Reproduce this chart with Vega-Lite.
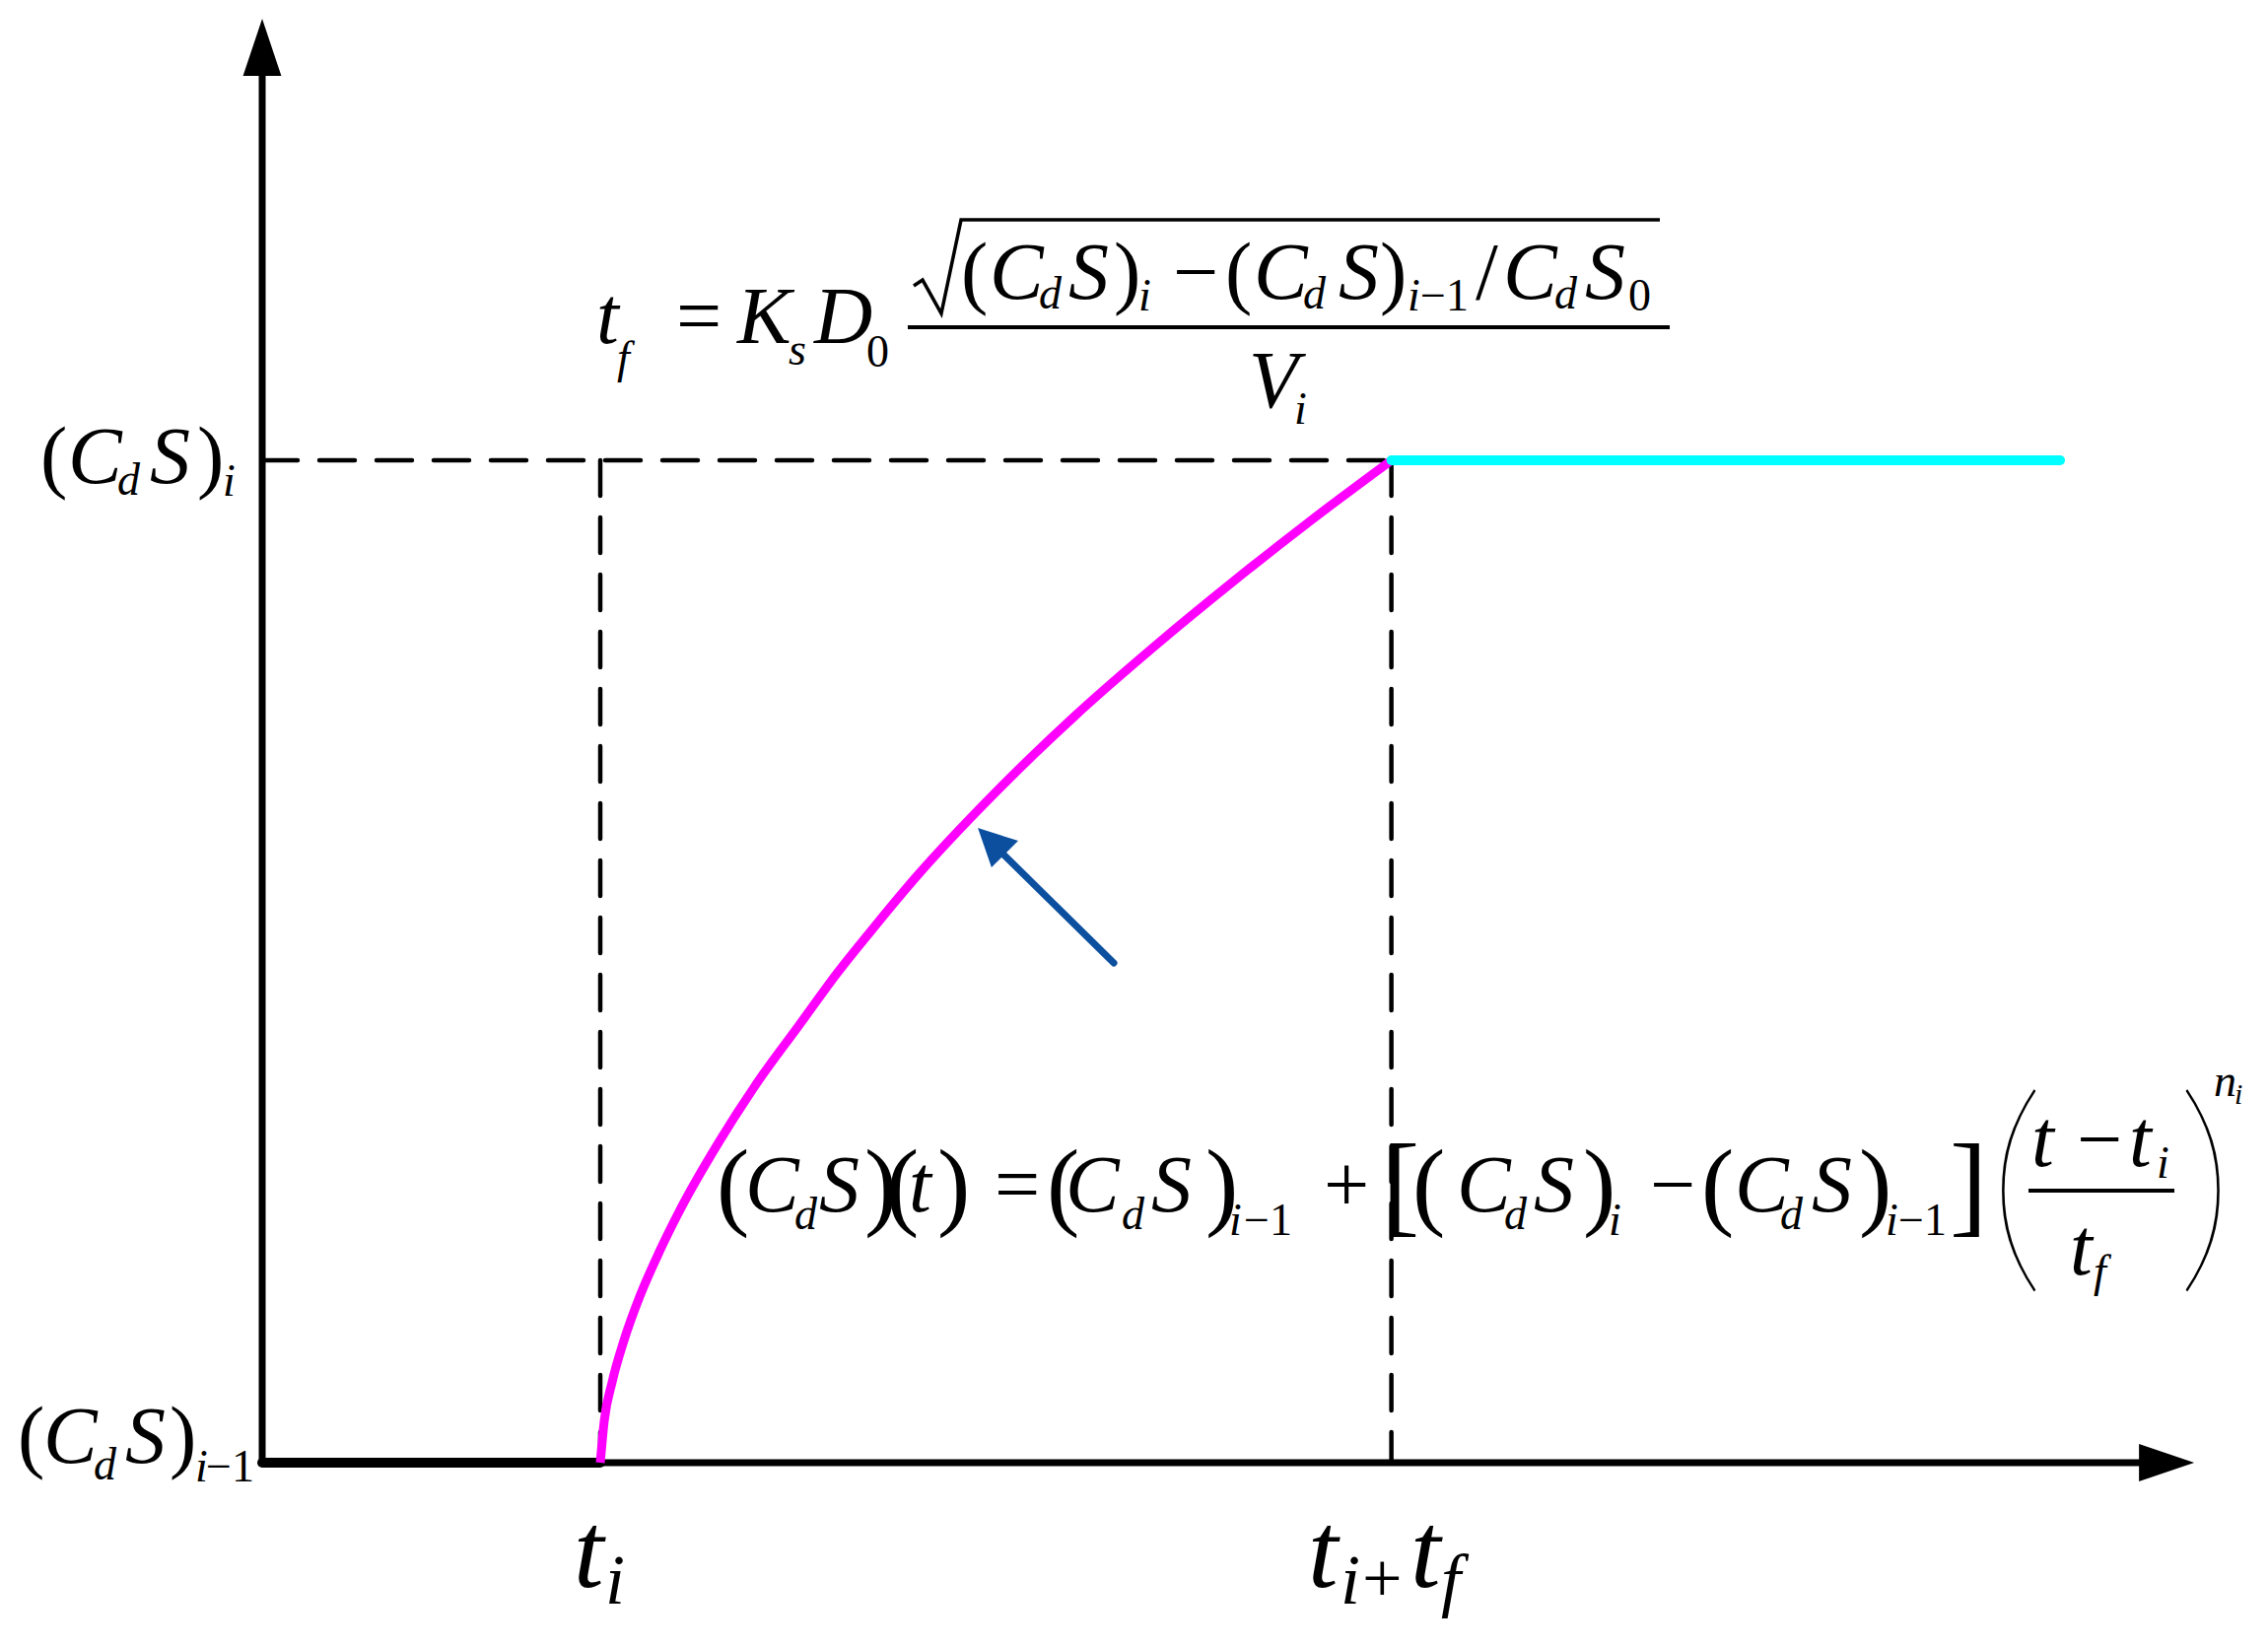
{
  "$schema": "https://vega.github.io/schema/vega-lite/v6.json",
  "width": 2301,
  "height": 1671,
  "autosize": {"type": "fit", "contains": "padding"},
  "padding": 0,
  "background": "white",
  "config": {"view": {"stroke": null}},
  "datasets": {
    "dash": [
      {"t": 0, "v": 10, "t2": 33.4, "v2": 10},
      {"t": 10, "v": 10, "t2": 10, "v2": 0},
      {"t": 33.4, "v": 10, "t2": 33.4, "v2": 0}
    ],
    "axes": [
      {"t": 0, "v": 0, "t2": 0, "v2": 13.9},
      {"t": 0, "v": 0, "t2": 55.6, "v2": 0}
    ],
    "thick": [{"t": 0, "v": 0, "t2": 10, "v2": 0}],
    "flat": [{"t": 33.4, "v": 10, "t2": 53.18, "v2": 10}],
    "pointer": [{"t": 25.19, "v": 4.985, "t2": 21.9, "v2": 6.077}],
    "headY": [{"t": 0, "v": 14.12}],
    "headX": [{"t": 56.33, "v": 0}],
    "headP": [{"t": 21.75, "v": 6.136}],
    "bars": [
      {"t": 19.096, "v": 11.327, "t2": 41.633, "v2": 11.327},
      {"t": 52.245, "v": 2.714, "t2": 56.56, "v2": 2.714}
    ],
    "radical": [
      {"t": 19.271, "v": 11.74},
      {"t": 19.534, "v": 11.799},
      {"t": 20.087, "v": 11.465},
      {"t": 20.671, "v": 12.399},
      {"t": 41.341, "v": 12.399}
    ],
    "curve": [
      {"t": 10.0, "v": 0},
      {"t": 10.117, "v": 0.416},
      {"t": 10.351, "v": 0.804},
      {"t": 10.702, "v": 1.22},
      {"t": 11.17, "v": 1.66},
      {"t": 11.755, "v": 2.11},
      {"t": 12.34, "v": 2.51},
      {"t": 13.51, "v": 3.2},
      {"t": 14.68, "v": 3.81},
      {"t": 15.85, "v": 4.35},
      {"t": 17.02, "v": 4.89},
      {"t": 18.19, "v": 5.38},
      {"t": 19.36, "v": 5.85},
      {"t": 21.7, "v": 6.69},
      {"t": 24.04, "v": 7.45},
      {"t": 26.38, "v": 8.14},
      {"t": 28.72, "v": 8.79},
      {"t": 31.06, "v": 9.41},
      {"t": 33.4, "v": 10.0}
    ],
    "mi": [
      {"t": -5.743, "v": 9.774, "s": "C"},
      {"t": -3.324, "v": 9.774, "s": "S"},
      {"t": -6.472, "v": 0, "s": "C"},
      {"t": -4.052, "v": 0, "s": "S"},
      {"t": 9.883, "v": 11.17, "s": "t"},
      {"t": 14.052, "v": 11.17, "s": "K"},
      {"t": 16.327, "v": 11.17, "s": "D"},
      {"t": 21.516, "v": 11.613, "s": "C"},
      {"t": 23.848, "v": 11.613, "s": "S"},
      {"t": 29.329, "v": 11.613, "s": "C"},
      {"t": 31.837, "v": 11.613, "s": "S"},
      {"t": 36.706, "v": 11.613, "s": "C"},
      {"t": 39.125, "v": 11.613, "s": "S"},
      {"t": 29.184, "v": 10.531, "s": "V"},
      {"t": 14.286, "v": 2.507, "s": "C"},
      {"t": 16.472, "v": 2.507, "s": "S"},
      {"t": 19.125, "v": 2.507, "s": "t"},
      {"t": 23.761, "v": 2.507, "s": "C"},
      {"t": 26.297, "v": 2.507, "s": "S"},
      {"t": 35.335, "v": 2.507, "s": "C"},
      {"t": 37.609, "v": 2.507, "s": "S"},
      {"t": 43.557, "v": 2.507, "s": "C"},
      {"t": 45.831, "v": 2.507, "s": "S"},
      {"t": 52.332, "v": 2.96, "s": "t"},
      {"t": 55.219, "v": 2.96, "s": "t"},
      {"t": 53.469, "v": 1.878, "s": "t"}
    ],
    "mr": [
      {"t": -6.56, "v": 9.774, "s": "("},
      {"t": -1.924, "v": 9.774, "s": ")"},
      {"t": -7.23, "v": 0, "s": "("},
      {"t": -2.741, "v": 0, "s": ")"},
      {"t": 12.245, "v": 11.17, "s": "="},
      {"t": 20.671, "v": 11.613, "s": "("},
      {"t": 25.19, "v": 11.613, "s": ")"},
      {"t": 26.939, "v": 11.613, "s": "−"},
      {"t": 28.484, "v": 11.613, "s": "("},
      {"t": 33.061, "v": 11.613, "s": ")"},
      {"t": 35.889, "v": 11.613, "s": "/"},
      {"t": 21.662, "v": 2.507, "s": "="},
      {"t": 31.399, "v": 2.507, "s": "+"},
      {"t": 41.05, "v": 2.507, "s": "−"},
      {"t": 53.673, "v": 2.96, "s": "−"}
    ],
    "si": [
      {"t": -4.286, "v": 9.656, "s": "d"},
      {"t": -1.166, "v": 9.646, "s": "i"},
      {"t": -4.985, "v": -0.167, "s": "d"},
      {"t": -1.983, "v": -0.187, "s": "i"},
      {"t": 10.496, "v": 10.875, "s": "f"},
      {"t": 15.569, "v": 10.954, "s": "s"},
      {"t": 22.974, "v": 11.514, "s": "d"},
      {"t": 25.918, "v": 11.495, "s": "i"},
      {"t": 30.787, "v": 11.514, "s": "d"},
      {"t": 33.878, "v": 11.495, "s": "i"},
      {"t": 38.222, "v": 11.514, "s": "d"},
      {"t": 30.525, "v": 10.364, "s": "i"},
      {"t": 15.743, "v": 2.33, "s": "d"},
      {"t": 25.423, "v": 2.33, "s": "d"},
      {"t": 28.601, "v": 2.271, "s": "i"},
      {"t": 36.735, "v": 2.33, "s": "d"},
      {"t": 39.825, "v": 2.271, "s": "i"},
      {"t": 44.898, "v": 2.33, "s": "d"},
      {"t": 48.017, "v": 2.271, "s": "i"},
      {"t": 56.035, "v": 2.842, "s": "i"},
      {"t": 54.169, "v": 1.76, "s": "f"},
      {"t": 57.726, "v": 3.658, "s": "n"}
    ],
    "sr": [
      {"t": -1.662, "v": -0.187, "s": "−1"},
      {"t": 17.872, "v": 10.934, "s": "0"},
      {"t": 34.257, "v": 11.495, "s": "−1"},
      {"t": 40.408, "v": 11.495, "s": "0"},
      {"t": 29.038, "v": 2.271, "s": "−1"},
      {"t": 48.397, "v": 2.271, "s": "−1"}
    ],
    "xi": [
      {"t": 9.213, "v": -1.239, "s": "t"},
      {"t": 30.933, "v": -1.239, "s": "t"},
      {"t": 33.965, "v": -1.239, "s": "t"}
    ],
    "xs": [
      {"t": 10.146, "v": -1.406, "s": "i"},
      {"t": 31.895, "v": -1.406, "s": "i"},
      {"t": 34.869, "v": -1.406, "s": "f"}
    ],
    "xsr": [{"t": 32.536, "v": -1.386, "s": "+"}],
    "pm": [
      {"t": 13.44, "v": 2.448, "s": "("},
      {"t": 17.813, "v": 2.448, "s": ")"},
      {"t": 18.455, "v": 2.448, "s": "("},
      {"t": 19.971, "v": 2.448, "s": ")"},
      {"t": 23.207, "v": 2.448, "s": "("},
      {"t": 27.901, "v": 2.448, "s": ")"},
      {"t": 34.023, "v": 2.448, "s": "("},
      {"t": 39.067, "v": 2.448, "s": ")"},
      {"t": 42.566, "v": 2.448, "s": "("},
      {"t": 47.23, "v": 2.448, "s": ")"}
    ],
    "bk": [
      {"t": 33.12, "v": 2.399, "s": "["},
      {"t": 49.913, "v": 2.399, "s": "]"}
    ],
    "bp": [
      {"t": 51.02, "v": 1.986, "s": "("},
      {"t": 56.618, "v": 1.986, "s": ")"}
    ],
    "tiny": [{"t": 58.338, "v": 3.579, "s": "i"}]
  },
  "encoding": {
    "x": {"field": "t", "type": "quantitative", "scale": {"domain": [-7.755, 59.329], "nice": false, "zero": false}, "axis": null},
    "y": {"field": "v", "type": "quantitative", "scale": {"domain": [-1.8387, 14.592], "nice": false, "zero": false}, "axis": null}
  },
  "layer": [
    {
      "data": {"name": "dash"},
      "mark": {"type": "rule", "color": "black", "strokeWidth": 4.5, "strokeDash": [36, 22], "strokeCap": "round"},
      "encoding": {"x2": {"field": "t2"}, "y2": {"field": "v2"}}
    },
    {
      "data": {"name": "axes"},
      "mark": {"type": "rule", "color": "black", "strokeWidth": 7},
      "encoding": {"x2": {"field": "t2"}, "y2": {"field": "v2"}}
    },
    {
      "data": {"name": "thick"},
      "mark": {"type": "rule", "color": "black", "strokeWidth": 10, "strokeCap": "round"},
      "encoding": {"x2": {"field": "t2"}, "y2": {"field": "v2"}}
    },
    {
      "data": {"name": "headY"},
      "mark": {"type": "point", "shape": "M0,-1L0.67,1L-0.67,1Z", "size": 3364, "filled": true, "color": "black", "opacity": 1, "strokeWidth": 0},
      "encoding": {}
    },
    {
      "data": {"name": "headX"},
      "mark": {"type": "point", "shape": "M1,0L-1,-0.68L-1,0.68Z", "size": 3136, "filled": true, "color": "black", "opacity": 1, "strokeWidth": 0},
      "encoding": {}
    },
    {
      "data": {"name": "curve"},
      "mark": {"type": "line", "color": "#ff00ff", "strokeWidth": 9, "interpolate": "monotone", "strokeCap": "butt"},
      "encoding": {}
    },
    {
      "data": {"name": "flat"},
      "mark": {"type": "rule", "color": "#00ffff", "strokeWidth": 10, "strokeCap": "round"},
      "encoding": {"x2": {"field": "t2"}, "y2": {"field": "v2"}}
    },
    {
      "data": {"name": "pointer"},
      "mark": {"type": "rule", "color": "#0b4f9e", "strokeWidth": 7, "strokeCap": "round"},
      "encoding": {"x2": {"field": "t2"}, "y2": {"field": "v2"}}
    },
    {
      "data": {"name": "headP"},
      "mark": {"type": "point", "shape": "M-0.95,-0.95L1,-0.33L-0.29,0.95Z", "size": 1764, "filled": true, "color": "#0b4f9e", "opacity": 1, "strokeWidth": 0},
      "encoding": {}
    },
    {
      "data": {"name": "bars"},
      "mark": {"type": "rule", "color": "black", "strokeWidth": 4},
      "encoding": {"x2": {"field": "t2"}, "y2": {"field": "v2"}}
    },
    {
      "data": {"name": "radical"},
      "mark": {"type": "line", "color": "black", "strokeWidth": 3.5, "strokeJoin": "miter"},
      "encoding": {}
    },
    {
      "data": {"name": "mi"},
      "mark": {"type": "text", "font": "Liberation Serif", "fontStyle": "italic", "fontSize": 82, "align": "left", "baseline": "alphabetic", "color": "black"},
      "encoding": {"text": {"field": "s"}}
    },
    {
      "data": {"name": "mr"},
      "mark": {"type": "text", "font": "Liberation Serif", "fontSize": 82, "align": "left", "baseline": "alphabetic", "color": "black"},
      "encoding": {"text": {"field": "s"}}
    },
    {
      "data": {"name": "si"},
      "mark": {"type": "text", "font": "Liberation Serif", "fontStyle": "italic", "fontSize": 46, "align": "left", "baseline": "alphabetic", "color": "black"},
      "encoding": {"text": {"field": "s"}}
    },
    {
      "data": {"name": "sr"},
      "mark": {"type": "text", "font": "Liberation Serif", "fontSize": 46, "align": "left", "baseline": "alphabetic", "color": "black"},
      "encoding": {"text": {"field": "s"}}
    },
    {
      "data": {"name": "xi"},
      "mark": {"type": "text", "font": "Liberation Serif", "fontStyle": "italic", "fontSize": 110, "align": "left", "baseline": "alphabetic", "color": "black"},
      "encoding": {"text": {"field": "s"}}
    },
    {
      "data": {"name": "xs"},
      "mark": {"type": "text", "font": "Liberation Serif", "fontStyle": "italic", "fontSize": 72, "align": "left", "baseline": "alphabetic", "color": "black"},
      "encoding": {"text": {"field": "s"}}
    },
    {
      "data": {"name": "xsr"},
      "mark": {"type": "text", "font": "Liberation Serif", "fontSize": 72, "align": "left", "baseline": "alphabetic", "color": "black"},
      "encoding": {"text": {"field": "s"}}
    },
    {
      "data": {"name": "pm"},
      "mark": {"type": "text", "font": "Liberation Serif", "fontSize": 100, "align": "left", "baseline": "alphabetic", "color": "black"},
      "encoding": {"text": {"field": "s"}}
    },
    {
      "data": {"name": "bk"},
      "mark": {"type": "text", "font": "Liberation Serif", "fontSize": 115, "align": "left", "baseline": "alphabetic", "color": "black"},
      "encoding": {"text": {"field": "s"}}
    },
    {
      "data": {"name": "bp"},
      "mark": {"type": "text", "font": "Lato", "fontWeight": 200, "fontSize": 235, "align": "left", "baseline": "alphabetic", "color": "black"},
      "encoding": {"text": {"field": "s"}}
    },
    {
      "data": {"name": "tiny"},
      "mark": {"type": "text", "font": "Liberation Serif", "fontStyle": "italic", "fontSize": 30, "align": "left", "baseline": "alphabetic", "color": "black"},
      "encoding": {"text": {"field": "s"}}
    }
  ]
}
